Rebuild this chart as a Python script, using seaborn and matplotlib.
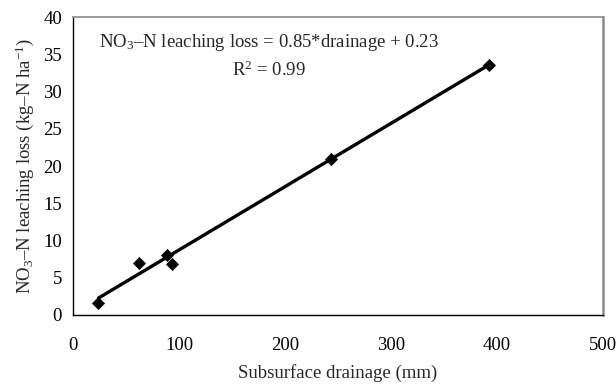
import numpy as np
import pandas as pd
import matplotlib
matplotlib.use("Agg")
import matplotlib.pyplot as plt
import seaborn as sns

drainage = [24, 62, 89, 93, 243, 392]
leaching = [1.6, 7.0, 8.1, 6.8, 20.9, 33.5]
slope = 0.085
intercept = 0.23
x_ticks = [0, 100, 200, 300, 400, 500]
y_ticks = [0, 5, 10, 15, 20, 25, 30, 35, 40]

sns.set_style("white")
plt.rcParams['font.family'] = ['Liberation Serif', 'DejaVu Serif']
plt.rcParams['mathtext.fontset'] = 'custom'
plt.rcParams['mathtext.rm'] = 'Liberation Serif'
plt.rcParams['mathtext.it'] = 'Liberation Serif:italic'

FS = 13.5

df = pd.DataFrame({"drainage": drainage, "leaching": leaching})
fit_x = [min(drainage), max(drainage)]
fit = pd.DataFrame({"drainage": fit_x,
                    "leaching": [slope * v + intercept for v in fit_x]})

fig = plt.figure(figsize=(6.16, 3.84), dpi=100)
ax = fig.add_axes([0.1185, 0.1797, 0.979 - 0.1185, 0.9557 - 0.1797])

sns.lineplot(data=fit, x="drainage", y="leaching", ax=ax, color="black", lw=2.4)
sns.scatterplot(data=df, x="drainage", y="leaching", ax=ax, marker="D",
                color="black", s=38, edgecolor="black", zorder=3)

ax.set_xlim(0, 500)
ax.set_ylim(0, 40)
ax.set_xticks(x_ticks)
ax.set_yticks(y_ticks)
ax.tick_params(axis="both", direction="out", length=5, width=1, labelsize=FS,
               colors="black")
ax.tick_params(axis="x", pad=11)
ax.tick_params(axis="y", pad=3)
for s in ["left", "bottom"]:
    ax.spines[s].set_color("black")
    ax.spines[s].set_linewidth(1.0)
ax.spines["top"].set_color("#8a8a8a")
ax.spines["top"].set_linewidth(1.2)
ax.spines["right"].set_color("#8a8a8a")
ax.spines["right"].set_linewidth(1.8)

ax.set_xlabel("Subsurface drainage (mm)", fontsize=FS, labelpad=7)
ax.set_ylabel("NO$_3$–N leaching loss (kg–N ha$^{-1}$)", fontsize=FS, labelpad=5)

ax.text(0.05, 0.915, "NO$_3$–N leaching loss = 0.85*drainage + 0.23",
        transform=ax.transAxes, fontsize=FS, ha="left", va="center")
ax.text(0.37, 0.82, "R$^2$ = 0.99", transform=ax.transAxes, fontsize=FS,
        ha="center", va="center")

fig.savefig("out.png", dpi=100)
